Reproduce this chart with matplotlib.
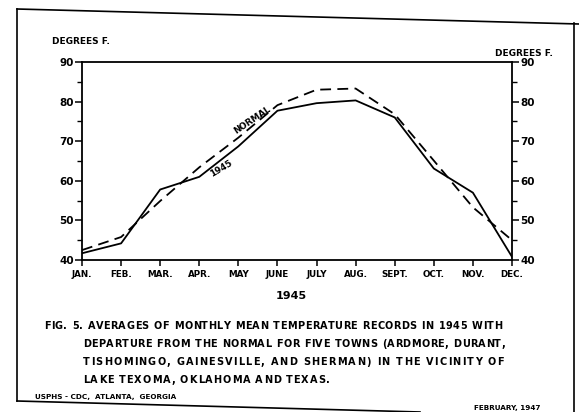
import numpy as np
import matplotlib.pyplot as plt
from matplotlib.lines import Line2D
from matplotlib import font_manager

months = ['JAN.', 'FEB.', 'MAR.', 'APR.', 'MAY', 'JUNE', 'JULY', 'AUG.', 'SEPT.', 'OCT.', 'NOV.', 'DEC.']
normal = [42.5, 45.8, 54.9, 63.4, 70.9, 79.1, 83.0, 83.3, 76.8, 65.1, 53.3, 45.0]
temp_1945 = [41.7, 44.2, 57.8, 61.0, 68.7, 77.7, 79.6, 80.3, 76.0, 63.1, 57.0, 40.8]
y_ticks = [40, 50, 60, 70, 80, 90]
caption = [
    'FIG. 5. AVERAGES OF MONTHLY MEAN TEMPERATURE RECORDS IN 1945 WITH',
    'DEPARTURE FROM THE NORMAL FOR FIVE TOWNS (ARDMORE, DURANT,',
    'TISHOMINGO, GAINESVILLE, AND SHERMAN) IN THE VICINITY OF',
    'LAKE TEXOMA, OKLAHOMA AND TEXAS.',
]

W, H = 579, 412
plt.rcParams['font.family'] = 'DejaVu Sans'
plt.rcParams['font.weight'] = 'bold'

fig = plt.figure(figsize=(W / 100, H / 100), dpi=100)
fig.patch.set_facecolor('white')


def fx(px):
    return px / W


def fy(py):
    return 1 - py / H


ax = fig.add_axes([fx(82), fy(260), fx(512) - fx(82), fy(62) - fy(260)])
x = np.arange(len(months))

ax.plot(x, temp_1945, color='black', lw=1.3)
ax.plot(x, normal, color='black', lw=1.3, dashes=(6, 3.5))

ax.set_xlim(0, len(months) - 1)
ax.set_ylim(40, 90)
ax.set_xticks(x)
ax.set_xticklabels(months, fontsize=6.3, fontweight='bold')
ax.set_yticks(y_ticks)
ax.set_yticks(np.arange(45, 90, 10), minor=True)
ax.set_yticklabels([str(v) for v in y_ticks], fontsize=7.5, fontweight='bold')
ax.tick_params(axis='y', which='major', direction='out', length=5, width=1.1, pad=1,
               left=True, right=True, labelleft=True, labelright=True)
ax.tick_params(axis='y', which='minor', direction='out', length=3.5, width=1.0,
               left=True, right=True)
ax.tick_params(axis='x', direction='out', length=4, width=1.1, pad=3)
for s in ax.spines.values():
    s.set_linewidth(1.3)

# line labels
ax.text(4.35, 75.4, 'NORMAL', fontsize=6.3, fontweight='bold', rotation=34,
        ha='center', va='center')
ax.text(3.55, 63.0, '1945', fontsize=6.3, fontweight='bold', rotation=31,
        ha='center', va='center')

# axis titles
fig.text(fx(52), fy(42), 'DEGREES F.', fontsize=6.5, fontweight='bold', ha='left', va='center')
fig.text(fx(553), fy(54), 'DEGREES F.', fontsize=6.5, fontweight='bold', ha='right', va='center')
fig.text(fx(291), fy(296), '1945', fontsize=8, fontweight='bold', ha='center', va='center')

# caption: hand lettering is widely tracked, so place letter by letter (using the
# glyph advances) and spread the words to each line's width
cap_size = 7.0
font = font_manager.get_font(font_manager.findfont(
    font_manager.FontProperties(family='DejaVu Sans', weight='bold')))
font.set_size(cap_size, 100)


def advance(c):
    return font.load_char(ord(c)).linearHoriAdvance / 65536


lines_pos = [(44, 502, 326), (83, 505, 344), (83, 504, 362), (83, 330, 380)]
for txt, (x0, x1, yy) in zip(caption, lines_pos):
    words = txt.split()
    letters = sum(advance(c) for w in words for c in w)
    inner = sum(len(w) - 1 for w in words)
    min_gap = 5.0
    track = min(1.2, ((x1 - x0) - letters - min_gap * (len(words) - 1)) / inner)
    gap = ((x1 - x0) - letters - track * inner) / (len(words) - 1)
    pos = x0
    for w in words:
        for c in w:
            fig.text(fx(pos), fy(yy), c, fontsize=cap_size, fontweight='bold',
                     ha='left', va='center')
            pos += advance(c) + track
        pos += gap - track

fig.text(fx(35), fy(397), 'USPHS - CDC,  ATLANTA,  GEORGIA', fontsize=5.2, fontweight='bold',
         ha='left', va='center')
fig.text(fx(540), fy(408), 'FEBRUARY, 1947', fontsize=5.2, fontweight='bold',
         ha='right', va='center')

# sheet border
for (ax0, ay0), (ax1, ay1) in [((17, 9), (579, 24)), ((17, 9), (17, 401)),
                               ((17, 401), (420, 412)), ((574, 23), (574, 412))]:
    fig.add_artist(Line2D([fx(ax0), fx(ax1)], [fy(ay0), fy(ay1)], color='black', lw=1.2,
                          transform=fig.transFigure))

fig.savefig('out.png', dpi=100)
